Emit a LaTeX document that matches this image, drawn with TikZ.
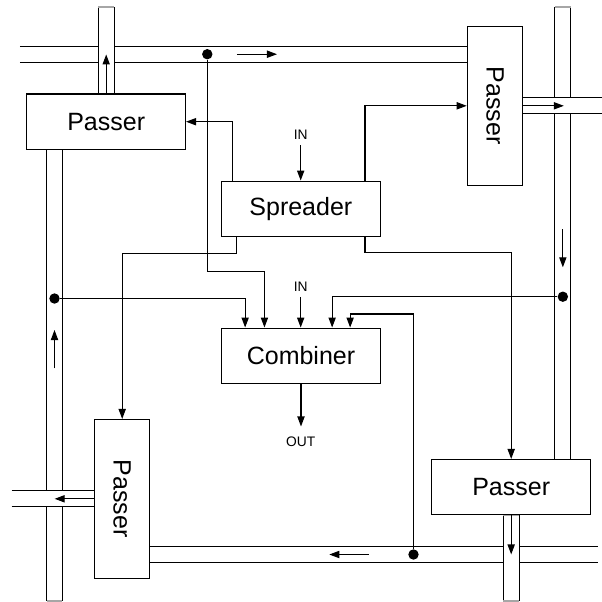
\documentclass[tikz,border=0pt]{standalone}
\usepackage{fontspec}
\setmainfont{Liberation Sans}
\usepackage{tikz}
\usetikzlibrary{arrows.meta,calc,positioning}
\colorlet{wireC}{black}
\colorlet{capC}{black!35}
\tikzset{
  wire/.style={draw=wireC,line width=0.55pt},
  unitbox/.style={wire,fill=white,minimum width=79.3pt,minimum height=27.7pt,inner sep=0pt,font=\fontsize{12.5pt}{14pt}\selectfont},
  tag/.style={inner sep=2.5pt,text depth=0pt,font=\fontsize{6.9pt}{8pt}\selectfont},
  junction/.style={circle,fill=black,inner sep=0pt,minimum size=5.2pt},
}
% vertical pipe: x left, y top, y bottom (closed ends)
\newcommand{\vpipe}[3]{%
  \fill[white] (#1,#2) rectangle ({#1+15.8},#3);
  \draw[wire] (#1,#2)--(#1,#3) ({#1+15.8},#2)--({#1+15.8},#3);
  \draw[capC,line width=0.55pt] (#1,#2)--({#1+15.8},#2) (#1,#3)--({#1+15.8},#3);}
% horizontal pipe: x left, x right, y top (open ends)
\newcommand{\hpipe}[3]{%
  \fill[white] (#1,#3) rectangle (#2,{#3+15.8});
  \draw[wire] (#1,#3)--(#2,#3) (#1,{#3+15.8})--(#2,{#3+15.8});}

\begin{document}
\begin{tikzpicture}[x=0.5pt,y=-0.5pt,>={Triangle[length=5pt,width=3.6pt]}]
\useasboundingbox (0,0) rectangle (602,602);
\hpipe{20}{467.3}{46.3}
\vpipe{98.3}{7}{94}
\vpipe{46.6}{149.3}{601}
\hpipe{11.7}{94.3}{490.9}
\vpipe{554.95}{7}{459.3}
\hpipe{522.7}{601.7}{97.9}
\hpipe{150}{597.7}{546.6}
\vpipe{503.3}{515}{601}

\node[unitbox] (pTL) at (106.2,121.7) {Passer};
\node[unitbox,rotate=-90] (pTR) at (495,105.8) {Passer};
\node[unitbox,rotate=-90] (pBL) at (122.2,498.8) {Passer};
\node[unitbox] (pBR) at (511.2,487.2) {Passer};
\node[unitbox] (spreader) at (300.85,208.8) {Spreader};
\node[unitbox] (combiner) at (301,355.8) {Combiner};
\node[tag] (inS) at (300.7,135) {IN};
\node[tag] (inC) at (300.7,286.7) {IN};
\node[tag] (out) at (300.7,441.7) {OUT};

\node[junction] (dTop) at (207.3,54.2) {};
\node[junction] (dLeft) at (54.5,298.5) {};
\node[junction] (dRight) at (562.85,296.7) {};
\node[junction] (dBot) at (413.5,554.5) {};

\coordinate (cin1) at ($(combiner.north west)+(24,0)$);
\coordinate (cin2) at ($(combiner.north west)+(43.3,0)$);
\coordinate (cin4) at ($(combiner.north west)+(111,0)$);
\coordinate (cin5) at ($(combiner.north west)+(129,0)$);

% spreader outputs
\draw[wire,->] ($(spreader.north west)+(11.6,0)$) |- (pTL.east);
\draw[wire,->] ($(spreader.north east)+(-15.7,0)$) |- (pTR.south);
\draw[wire,->] ($(spreader.south west)+(15.6,0)$) -- ++(0,16) -| (pBL.west);
\draw[wire,->] ($(spreader.south east)+(-15.7,0)$) -- ++(0,15) -| (pBR.north);
\draw[wire,->] (inS.south) -- (inS.south |- spreader.north);

% combiner inputs
\draw[wire,->] (dLeft) -| (cin1);
\draw[wire,->] (dTop) -- ++(0,217) -| (cin2);
\draw[wire,->] (inC.south) -- (inC.south |- combiner.north);
\draw[wire,->] (dRight) -| (cin4);
\draw[wire,->] (dBot) -- ++(0,-240.5) -| (cin5);
\draw[wire,->,shorten >=2.5pt] (combiner.south) -- (combiner.south |- out.north);

% flow in the pipes
\draw[wire,->] (pTL.north) -- ++(0,-39);
\draw[wire,->] (237,54.2) -- (277,54.2);
\draw[wire,->] (pTR.north) -- ++(40.6,0);
\draw[wire,->] (562.85,229) -- (562.85,267.3);
\draw[wire,->] (54.5,368.3) -- (54.5,330);
\draw[wire,->] (pBL.south) -- ++(-39.3,0);
\draw[wire,->] (369,554.5) -- (329.3,554.5);
\draw[wire,->] (pBR.south) -- ++(0,39);
\end{tikzpicture}
\end{document}
